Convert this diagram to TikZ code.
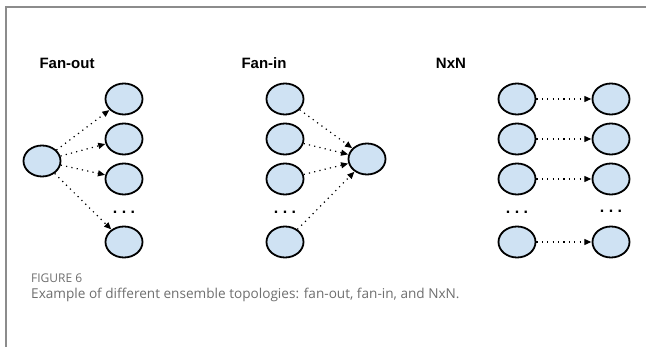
\documentclass[tikz,border=0pt]{standalone}
\usepackage{fontspec}
\setmainfont{Liberation Sans}
\newfontfamily\capfont{Open Sans}
\usetikzlibrary{shapes.geometric,arrows.meta}
\definecolor{nodefill}{HTML}{CFE2F3}
\definecolor{framegray}{HTML}{8C8C8C}
\definecolor{capgray}{HTML}{6E6E6E}
\tikzset{
  ens/.style={ellipse,draw=black,line width=1.8pt,fill=nodefill,
    minimum width=37pt,minimum height=31pt,inner sep=0pt},
  flow/.style={line width=1.2pt,dash pattern=on 1.2pt off 4.2pt,
    -{Triangle[length=7pt,width=6pt]},shorten >=0.3pt},
  heading/.style={font=\fontsize{15}{18}\selectfont\bfseries},
  more/.style={font=\fontsize{16}{18}\selectfont\bfseries,inner sep=0pt}
}
\newcommand{\gapdots}{.\hspace{4.5pt}.\hspace{4.5pt}.}
\begin{document}
\begin{tikzpicture}[x=1pt,y=-1pt]
\useasboundingbox (0,0) rectangle (646,347);
% frame
\draw[framegray,line width=2pt] (6,347) -- (6,7) -- (646,7);

% headings
\node[heading] (hout) at (67,63) {Fan-out};
\node[heading] (hin)  at (264,63) {Fan-in};
\node[heading] (hnn)  at (451,63) {NxN};

% fan-out
\node[ens] (s) at (42,161) {};
\node[ens] (o1) at (124,99) {};
\node[ens] (o2) at (124,139) {};
\node[ens] (o3) at (124,179) {};
\node[ens] (o4) at (124,242) {};
\node[more] (odots) at (124,212) {\gapdots};
\foreach \t in {o1,o2,o3,o4} \draw[flow] (s) -- (\t);

% fan-in
\node[ens] (i1) at (285,99) {};
\node[ens] (i2) at (285,139) {};
\node[ens] (i3) at (285,179) {};
\node[ens] (i4) at (285,242) {};
\node[more] (idots) at (285,212) {\gapdots};
\node[ens] (t) at (367,159) {};
\foreach \s in {i1,i2,i3,i4} \draw[flow] (\s) -- (t);

% NxN
\foreach \k/\y in {1/99,2/139,3/179,4/242}{
  \node[ens] (a\k) at (517,\y) {};
  \node[ens] (b\k) at (611,\y) {};
  \draw[flow] (a\k) -- (b\k);
}
\node[more] (adots) at (517,212) {\gapdots};
\node[more] (bdots) at (611,211) {\gapdots};

% caption
\node[anchor=base west,inner sep=0pt,text=capgray,
  font=\capfont\fontsize{12}{14}\selectfont] (fig) at (31,283) {FIGURE 6};
\node[anchor=base west,inner sep=0pt,text=capgray,
  font=\capfont\fontsize{13.6}{16}\selectfont] (cap) at (31,299)
  {Example of different ensemble topologies: fan-out, fan-in, and NxN.};
\end{tikzpicture}
\end{document}
